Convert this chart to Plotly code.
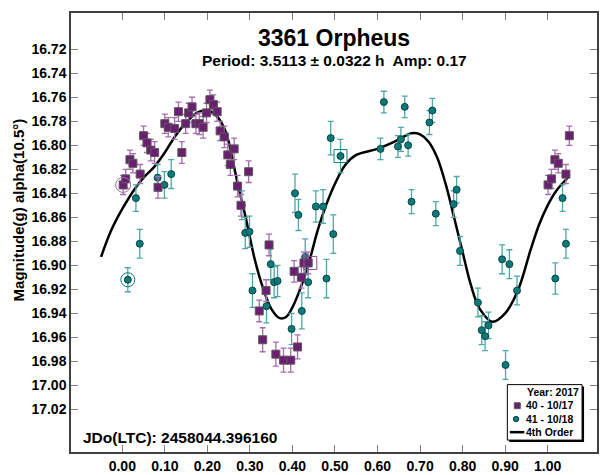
import plotly.graph_objects as go

# ---- data ----
purple_phase = [0.002, 0.008, 0.018, 0.025, 0.042, 0.050, 0.058, 0.067, 0.076, 0.084,
                0.100, 0.108, 0.123, 0.132, 0.140, 0.149, 0.156, 0.164, 0.173, 0.181,
                0.190, 0.198, 0.206, 0.214, 0.223, 0.230, 0.240, 0.248, 0.254, 0.263,
                0.271, 0.297, 0.279, 0.345, 0.338, 0.322, 0.330, 0.361, 0.379, 0.396,
                0.412, 0.404, 0.421, 0.427, 0.437,
                1.001, 1.009, 1.017, 1.025, 1.043, 1.051]
purple_mag = [16.833, 16.828, 16.812, 16.815, 16.824, 16.792, 16.798, 16.804, 16.806, 16.835,
              16.782, 16.785, 16.786, 16.772, 16.806, 16.782, 16.773, 16.768, 16.782, 16.782,
              16.785, 16.773, 16.762, 16.766, 16.772, 16.788, 16.793, 16.808, 16.816, 16.803,
              16.834, 16.822, 16.850, 16.883, 16.921, 16.938, 16.962, 16.974, 16.979, 16.979,
              16.968, 16.905, 16.910, 16.898, 16.898,
              16.833, 16.828, 16.812, 16.815, 16.824, 16.792]
purple_err = [0.008, 0.008, 0.008, 0.008, 0.008, 0.008, 0.008, 0.009, 0.009, 0.009,
              0.008, 0.008, 0.009, 0.008, 0.009, 0.008, 0.008, 0.008, 0.008, 0.009,
              0.009, 0.008, 0.008, 0.008, 0.008, 0.008, 0.009, 0.009, 0.009, 0.009,
              0.009, 0.009, 0.009, 0.009, 0.009, 0.009, 0.010, 0.010, 0.010, 0.010,
              0.010, 0.009, 0.009, 0.009, 0.009,
              0.008, 0.008, 0.008, 0.008, 0.008, 0.008]

teal_phase = [0.013, 0.041, 0.032, 0.083, 0.099, 0.115, 0.281, 0.289, 0.299, 0.349,
              0.357, 0.365, 0.306, 0.339, 0.406, 0.414, 0.430, 0.437, 0.398, 0.422,
              0.455, 0.472, 0.480, 0.496, 0.490, 0.513, 0.615, 0.664, 0.607, 0.648,
              0.655, 0.672, 0.680, 0.722, 0.729, 0.737, 0.779, 0.786, 0.794, 0.836,
              0.845, 0.853, 0.861, 0.893, 0.910, 0.928, 0.901, 1.018, 1.035, 1.043]
teal_mag = [16.912, 16.882, 16.844, 16.827, 16.833, 16.824, 16.850, 16.873, 16.872, 16.899,
            16.914, 16.913, 16.921, 16.934, 16.840, 16.858, 16.893, 16.914, 16.953, 16.938,
            16.851, 16.851, 16.911, 16.874, 16.794, 16.809, 16.764, 16.768, 16.803, 16.801,
            16.795, 16.800, 16.847, 16.781, 16.771, 16.857, 16.849, 16.837, 16.888, 16.931,
            16.954, 16.959, 16.950, 16.895, 16.899, 16.921, 16.983, 16.911, 16.844, 16.882]
teal_err = [0.010, 0.012, 0.011, 0.011, 0.011, 0.012, 0.012, 0.013, 0.013, 0.013,
            0.013, 0.013, 0.014, 0.014, 0.016, 0.013, 0.015, 0.013, 0.013, 0.015,
            0.013, 0.014, 0.016, 0.016, 0.014, 0.014, 0.009, 0.009, 0.009, 0.009,
            0.010, 0.009, 0.010, 0.010, 0.010, 0.010, 0.011, 0.011, 0.012, 0.012,
            0.012, 0.012, 0.011, 0.012, 0.012, 0.012, 0.012, 0.013, 0.011, 0.012]

# 4th order fit curve
fit_phase = [-0.05, -0.025, 0.00, 0.03, 0.05, 0.075, 0.10, 0.125, 0.15, 0.175, 0.20, 0.22,
             0.24, 0.25, 0.27, 0.29, 0.31, 0.33, 0.35, 0.37, 0.385, 0.40, 0.42, 0.44,
             0.46, 0.48, 0.50, 0.525, 0.55, 0.60, 0.64, 0.68, 0.70, 0.72, 0.74, 0.76,
             0.78, 0.80, 0.82, 0.84, 0.87, 0.90, 0.93, 0.96, 0.98, 1.00, 1.02, 1.05]
fit_mag = [16.893, 16.870, 16.853, 16.836, 16.827, 16.818, 16.806, 16.792, 16.781, 16.773,
           16.771, 16.775, 16.786, 16.797, 16.830, 16.860, 16.893, 16.918, 16.936, 16.944,
           16.943, 16.935, 16.918, 16.896, 16.870, 16.849, 16.832, 16.816, 16.808, 16.803,
           16.797, 16.790, 16.791, 16.797, 16.810, 16.832, 16.860, 16.889, 16.917, 16.936,
           16.947, 16.940, 16.921, 16.887, 16.866, 16.850, 16.838, 16.826]

# marked (circled / boxed) points
circ_purple = ([0.002], [16.833])
circ_teal = ([0.013], [16.912])
box_purple = ([0.442], [16.898])
box_teal = ([0.513], [16.809])

x_ticks = [0.0, 0.1, 0.2, 0.3, 0.4, 0.5, 0.6, 0.7, 0.8, 0.9, 1.0]
y_ticks = [16.72, 16.74, 16.76, 16.78, 16.80, 16.82, 16.84, 16.86, 16.88, 16.90,
           16.92, 16.94, 16.96, 16.98, 17.00, 17.02]

PURPLE = "#6c1f72"
TEAL = "#0b7a78"
FONT = "Liberation Sans"

W, H = 600, 475
L, R, T, B = 71, 1, 13, 19
PW, PH = W - L - R, H - T - B


def pxx(x):
    return (x - L) / PW


def pxy(y):
    return (H - B - y) / PH


fig = go.Figure()

fig.add_trace(go.Scatter(x=fit_phase, y=fit_mag, mode="lines", line=dict(color="black", width=2.5, shape="spline"),
                         showlegend=False, hoverinfo="skip"))

fig.add_trace(go.Scatter(
    x=teal_phase, y=teal_mag, mode="markers",
    marker=dict(symbol="circle", size=7, color=TEAL, line=dict(color="#0b4545", width=1)),
    error_y=dict(type="data", array=teal_err, color="#4fa8a6", thickness=1.3, width=3),
    showlegend=False))

fig.add_trace(go.Scatter(
    x=purple_phase, y=purple_mag, mode="markers",
    marker=dict(symbol="square", size=8, color=PURPLE, line=dict(color="#5a5a5a", width=1)),
    error_y=dict(type="data", array=purple_err, color="#a86cb0", thickness=1.3, width=3),
    showlegend=False))

fig.add_trace(go.Scatter(x=circ_purple[0], y=circ_purple[1], mode="markers",
                         marker=dict(symbol="circle-open", size=15, color="#a070a8", line=dict(width=1)),
                         showlegend=False))
fig.add_trace(go.Scatter(x=circ_teal[0], y=circ_teal[1], mode="markers",
                         marker=dict(symbol="circle-open", size=14, color=TEAL, line=dict(width=1)),
                         showlegend=False))
fig.add_trace(go.Scatter(x=box_purple[0], y=box_purple[1], mode="markers",
                         marker=dict(symbol="square-open", size=13, color="#8a4a90", line=dict(width=1)),
                         showlegend=False))
fig.add_trace(go.Scatter(x=box_teal[0], y=box_teal[1], mode="markers",
                         marker=dict(symbol="square-open", size=13, color=TEAL, line=dict(width=1)),
                         showlegend=False))

axis_common = dict(showgrid=False, zeroline=False, showline=True, linecolor="#404040", linewidth=1.5,
                   mirror="ticks", ticks="inside", ticklen=7, tickcolor="#808080", tickwidth=1.2,
                   tickfont=dict(family=FONT, size=14, color="black", weight="bold"))

fig.update_xaxes(range=[-0.1206, 1.116], tickvals=x_ticks, tickformat=".2f", **axis_common)
fig.update_yaxes(range=[17.0555, 16.6898], tickvals=y_ticks, tickformat=".2f", **axis_common)


def note(text, x, y, size, xanchor="center", angle=0):
    return dict(text="<b>%s</b>" % text, x=pxx(x), y=pxy(y), xref="paper", yref="paper",
                xanchor=xanchor, yanchor="middle", textangle=angle, showarrow=False,
                font=dict(family=FONT, size=size, color="black"))


ann = [
    note("3361 Orpheus", 335, 38, 23),
    note("Period: 3.5113 ± 0.0322 h  Amp: 0.17", 335, 61, 15.5),
    note("JDo(LTC): 2458044.396160", 81, 441, 15.5, xanchor="left"),
    note("Magnitude(g) alpha(10.5°)", 18, 212, 15, angle=-90),
    # legend (manual)
    note("Year: 2017", 583, 395.5, 10.5, xanchor="right"),
    note("40 - 10/17", 526, 409, 10.5, xanchor="left"),
    note("41 - 10/18", 526, 422.5, 10.5, xanchor="left"),
    note("4th Order", 526, 436, 10.5, xanchor="left"),
]

shapes = []
shapes.append(dict(type="rect", xref="paper", yref="paper", x0=pxx(511), x1=pxx(586), y0=pxy(446), y1=pxy(390),
                   fillcolor="black", line=dict(width=0)))
shapes.append(dict(type="rect", xref="paper", yref="paper", x0=pxx(509), x1=pxx(584), y0=pxy(444), y1=pxy(388),
                   fillcolor="white", line=dict(color="black", width=1)))
shapes.append(dict(type="rect", xref="paper", yref="paper", x0=pxx(516), x1=pxx(522), y0=pxy(412.3), y1=pxy(406.3),
                   fillcolor=PURPLE, line=dict(color="#5a5a5a", width=1)))
shapes.append(dict(type="circle", xref="paper", yref="paper", x0=pxx(515), x1=pxx(520.5), y0=pxy(425.5), y1=pxy(420),
                   fillcolor=TEAL, line=dict(color="#0b4545", width=1)))
shapes.append(dict(type="line", xref="paper", yref="paper", x0=pxx(511.5), x1=pxx(526), y0=pxy(436), y1=pxy(436),
                   line=dict(color="black", width=2.5)))

fig.update_layout(width=W, height=H, autosize=False, margin=dict(l=L, r=R, t=T, b=B),
                  paper_bgcolor="white", plot_bgcolor="white", showlegend=False,
                  annotations=ann, shapes=shapes)

fig.write_html("out.html")
